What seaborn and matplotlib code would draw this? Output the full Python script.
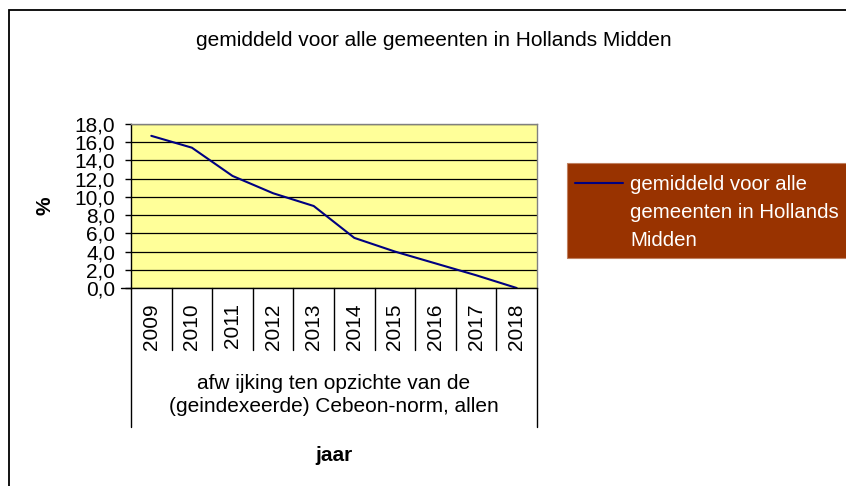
import matplotlib
matplotlib.use("Agg")
import matplotlib.pyplot as plt
import matplotlib.ticker as ticker
from matplotlib.lines import Line2D
from matplotlib.patches import Rectangle
import seaborn as sns
import pandas as pd

# data
jaren = ['2009', '2010', '2011', '2012', '2013', '2014', '2015', '2016', '2017', '2018']
afwijking = [16.7, 15.4, 12.3, 10.4, 9.0, 5.5, 4.0, 2.7, 1.4, 0.0]
titel = 'gemiddeld voor alle gemeenten in Hollands Midden'
legenda_regels = ['gemiddeld voor alle', 'gemeenten in Hollands', 'Midden']
categorie_regels = ['afw ijking ten opzichte van de', '(geindexeerde) Cebeon-norm, allen']
y_ticks = [0, 2, 4, 6, 8, 10, 12, 14, 16, 18]

df = pd.DataFrame({'jaar': jaren, 'waarde': afwijking})

sns.set_theme(style="white")
plt.rcParams['font.family'] = ['Liberation Sans', 'DejaVu Sans']
plt.rcParams['text.color'] = 'black'
plt.rcParams['xtick.color'] = 'black'
plt.rcParams['ytick.color'] = 'black'

W, H = 846, 486
fig = plt.figure(figsize=(W / 100, H / 100), dpi=100)
fig.patch.set_facecolor('white')

# buitenrand van de grafiek
fig.add_artist(Rectangle((9 / W, -0.05), 1.2, 1 - 10 / H + 0.05, transform=fig.transFigure,
                         fill=False, edgecolor='black', linewidth=1.3))

ax = fig.add_axes([131 / W, 1 - 288 / H, (537 - 131) / W, (288 - 124) / H])
ax.set_facecolor('#FFFF99')

sns.lineplot(data=df, x='jaar', y='waarde', ax=ax, color='#000080', linewidth=1.5,
             sort=False, legend=False)

ax.set_xlim(-0.5, len(jaren) - 0.5)
ax.set_ylim(0, 18)
ax.set_yticks(y_ticks)
ax.yaxis.set_major_formatter(ticker.FuncFormatter(lambda v, p: f'{v:.1f}'.replace('.', ',')))
ax.grid(axis='y', color='black', linewidth=0.9)
ax.grid(axis='x', visible=False)
ax.set_axisbelow(True)
for s in ax.spines.values():
    s.set_color('#808080')
    s.set_linewidth(1.0)
ax.spines['left'].set_color('black')
ax.spines['bottom'].set_color('black')

ax.tick_params(axis='y', left=True, length=4.5, width=1, colors='black', labelsize=15, pad=7)
ax.tick_params(axis='x', bottom=False, labelsize=15, pad=5, colors='black')
plt.setp(ax.get_xticklabels(), rotation=90, va='top')
ax.set_xlabel('')
ax.set_ylabel('')

# scheidingslijnen onder de as (categorie-as met twee niveaus)
trans = ax.get_xaxis_transform()
for k in range(len(jaren) + 1):
    ylow = -0.848 if k in (0, len(jaren)) else -0.378
    ax.plot([k - 0.5, k - 0.5], [0, ylow], color='black', linewidth=1.0,
            transform=trans, clip_on=False)
ax.plot([-0.5 - 0.25, -0.5], [0, 0], color='black', linewidth=1.0, transform=trans, clip_on=False)

for i, regel in enumerate(categorie_regels):
    fig.text(334 / W, 1 - (383 + 23 * i) / H, regel, ha='center', va='center', fontsize=15)

fig.text(334 / W, 1 - 455 / H, 'jaar', ha='center', va='center', fontsize=15, fontweight='bold')
fig.text(45 / W, 1 - 206 / H, '%', ha='center', va='center', fontsize=15, fontweight='bold',
         rotation=90)
fig.text(434 / W, 1 - 41 / H, titel, ha='center', va='center', fontsize=15)

# legenda
fig.add_artist(Rectangle((567 / W, 1 - 258 / H), 0.5, 95 / H, transform=fig.transFigure,
                         facecolor='#993300', edgecolor='#C08060', linewidth=0.8))
fig.add_artist(Line2D([575 / W, 623 / W], [1 - 183 / H, 1 - 183 / H], transform=fig.transFigure,
                      color='#000080', linewidth=1.5))
for i, regel in enumerate(legenda_regels):
    fig.text(630 / W, 1 - (184 + 28 * i) / H, regel, ha='left', va='center', color='white',
             fontsize=14.7)

plt.savefig('out.png', dpi=100)
plt.close()
